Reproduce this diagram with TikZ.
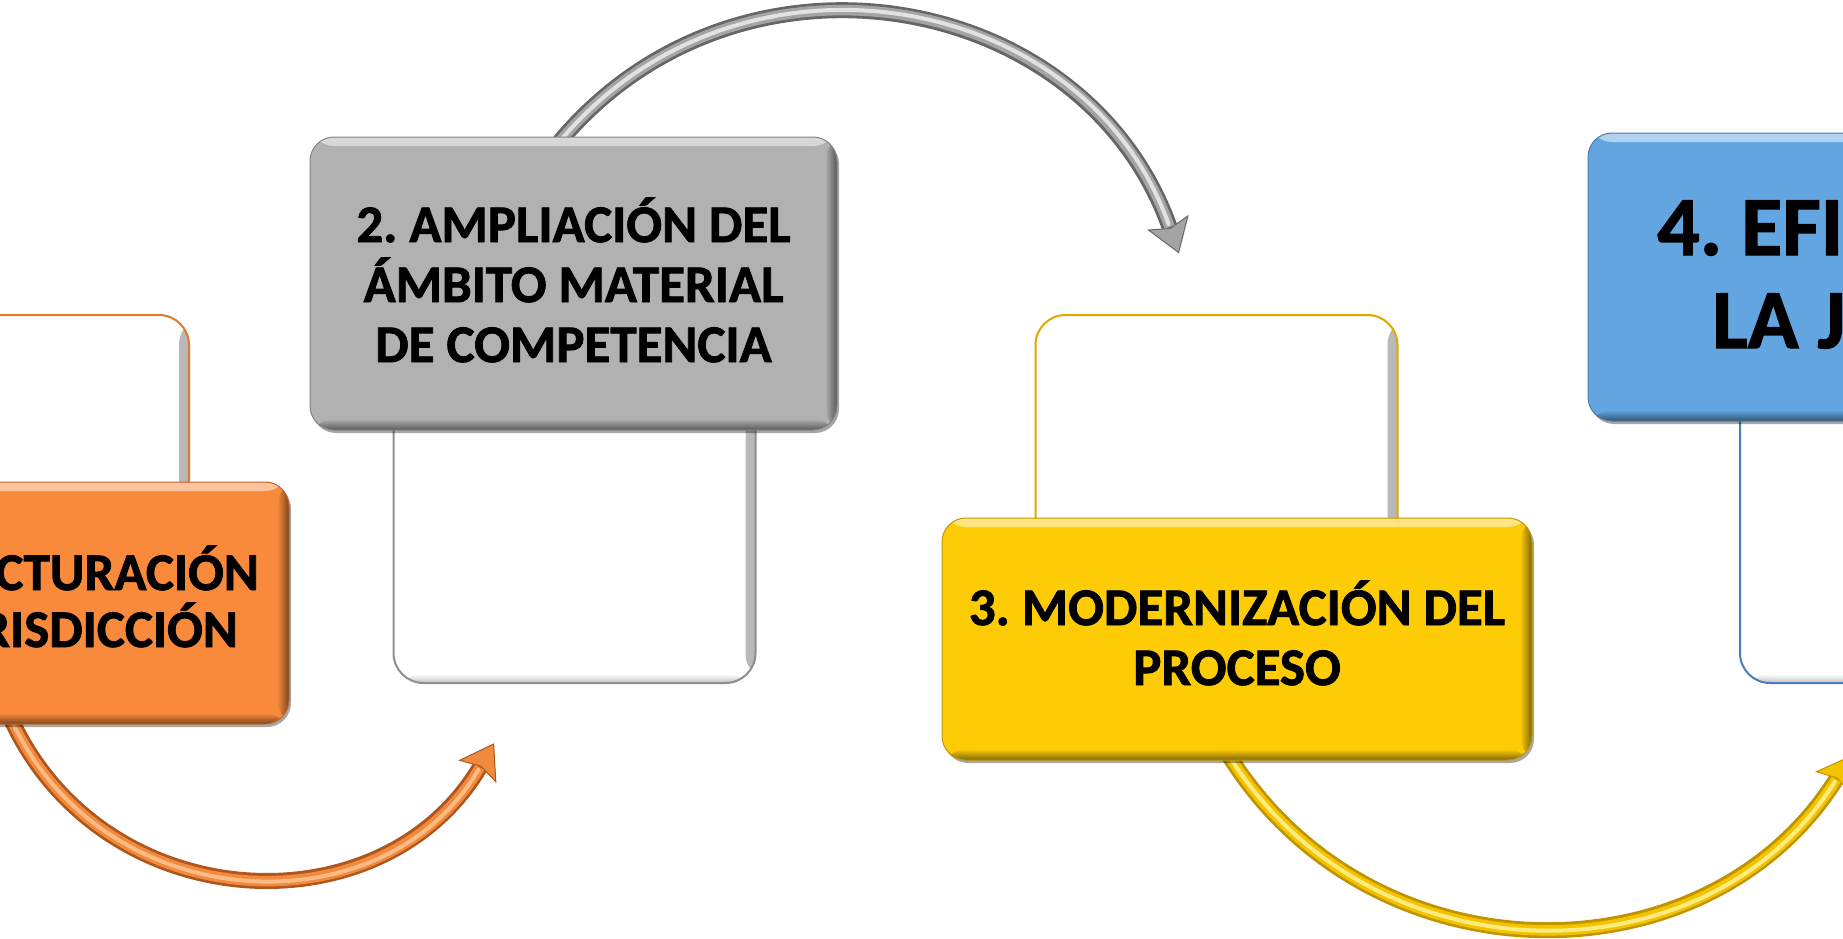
\documentclass[tikz,border=0pt]{standalone}
\usepackage{fontspec}
\setmainfont{Carlito}[BoldFeatures={FakeBold=1.5}]
\usetikzlibrary{arrows.meta,shadows}
\definecolor{cOr}{HTML}{F98A3C}
\definecolor{cGr}{HTML}{B1B1B1}
\definecolor{cYe}{HTML}{FECC05}
\definecolor{cBl}{HTML}{63A5E1}
\definecolor{bOr}{HTML}{E2782E}
\definecolor{bGr}{HTML}{8E8E8E}
\definecolor{bYe}{HTML}{E0A800}
\definecolor{bBl}{HTML}{4A7EBB}
\definecolor{aOrD}{HTML}{B0551C}
\definecolor{aOrM}{HTML}{EF8A3E}
\definecolor{aOrL}{HTML}{FDBA82}
\definecolor{aGrD}{HTML}{666666}
\definecolor{aGrM}{HTML}{A4A4A4}
\definecolor{aGrL}{HTML}{E2E2E2}
\definecolor{aYeD}{HTML}{C09400}
\definecolor{aYeM}{HTML}{F3C300}
\definecolor{aYeL}{HTML}{FFEC80}
\begin{document}
\frenchspacing
\begin{tikzpicture}[x=1pt,y=1pt,
  mainbox/.style={rectangle, rounded corners=24pt, inner sep=0pt, fill=#1, draw=#1!75!black, line width=1pt,
    drop shadow={shadow xshift=2pt, shadow yshift=-3pt, opacity=0.35, fill=black},
    path picture={
      \shade[top color=#1!50!white, bottom color=#1] (path picture bounding box.north west) rectangle ([yshift=-9pt]path picture bounding box.north east);
      \shade[left color=#1, right color=#1!50!black] ([xshift=-12pt]path picture bounding box.north east) rectangle (path picture bounding box.south east);
      \shade[top color=#1, bottom color=#1!50!black] ([yshift=11pt]path picture bounding box.south west) rectangle (path picture bounding box.south east);
    }},
  backbox/.style={rectangle, rounded corners=30pt, inner sep=0pt, fill=white, draw=#1, line width=2pt,
    minimum width=362pt, minimum height=368pt,
    path picture={
      \shade[left color=white, right color=black!28] ([xshift=-10pt]path picture bounding box.north east) rectangle (path picture bounding box.south east);
      \shade[top color=white, bottom color=black!25] ([yshift=9pt]path picture bounding box.south west) rectangle (path picture bounding box.south east);
    }},
  txt/.style={inner sep=0pt, font=\fontsize{53}{60}\selectfont\bfseries, align=center},
  txtbig/.style={inner sep=0pt, font=\fontsize{84}{93}\selectfont\bfseries},
  arrbase/.style 2 args={line width=16pt, draw=#1, -{Stealth[length=33pt,width=44pt,inset=6pt,line width=1pt,fill=#2]}},
  arrmid/.style={line width=10.5pt, draw=#1, shorten >=28pt},
  arrhi/.style={line width=4pt, draw=#1, shorten >=31pt, line cap=round},
]
\path[use as bounding box] (0,0) rectangle (1843,-938);
\clip (0,0) rectangle (1843,-938);

% back boxes
\node[backbox=bOr] (b1) at (8,-499) {};
\node[backbox=bGr] (b2) at (574.5,-499) {};
\node[backbox=bYe] (b3) at (1216.5,-499) {};
\node[backbox=bBl] (b4) at (1921,-499) {};

% arrow end points
\coordinate (oS) at (11.5,-720.1);
\coordinate (oE) at (494.1,-743.2);
\coordinate (gS) at (559.7,-141.5);
\coordinate (gE) at (1178.9,-253.4);
\coordinate (yS) at (1228.9,-755.5);
\coordinate (yE) at (1851.1,-755.5);

% orange arrow
\draw[arrbase={aOrD}{aOrM}] (oS) to[out=-65, in=239.5, looseness=1.162] (oE);
\draw[arrmid=aOrM] (oS) to[out=-65, in=239.5, looseness=1.162] (oE);
\draw[arrhi=aOrL] (oS) to[out=-65, in=239.5, looseness=1.162] (oE);
% gray arrow
\draw[arrbase={aGrD}{aGrM}] (gS) to[out=50, in=109.5, looseness=1.138] (gE);
\draw[arrmid=aGrM] (gS) to[out=50, in=109.5, looseness=1.138] (gE);
\draw[arrhi=aGrL] (gS) to[out=50, in=109.5, looseness=1.138] (gE);
% yellow arrow
\draw[arrbase={aYeD}{aYeM}] (yS) to[out=-58, in=238, looseness=1.113] (yE);
\draw[arrmid=aYeM] (yS) to[out=-58, in=238, looseness=1.113] (yE);
\draw[arrhi=aYeL] (yS) to[out=-58, in=238, looseness=1.113] (yE);

% main boxes
\node[mainbox=cOr, minimum width=527pt, minimum height=242pt] (m1) at (25.5,-603) {};
\node[mainbox=cGr, minimum width=527pt, minimum height=293pt] (m2) at (573.5,-283.5) {};
\node[mainbox=cYe, minimum width=590pt, minimum height=242pt] (m3) at (1237,-639) {};
\node[mainbox=cBl, minimum width=527pt, minimum height=288pt] (m4) at (1851.5,-277) {};

% texts
\node[txt] (t2) at (573.5,-280) {2. AMPLIACIÓN DEL\\ÁMBITO MATERIAL\\DE COMPETENCIA};
\node[txt] (t3) at (1237,-633) {3. MODERNIZACIÓN DEL\\PROCESO};
\node[txt, anchor=base east] (t1a) at (259,-590) {CTURACIÓN};
\node[txt, anchor=base east] (t1b) at (238,-647) {RISDICCIÓN};
\node[txtbig, anchor=base west] (t4a) at (1657,-255) {4. EFI};
\node[txtbig, anchor=base west] (t4b) at (1712,-348) {LA J};
\end{tikzpicture}
\end{document}
